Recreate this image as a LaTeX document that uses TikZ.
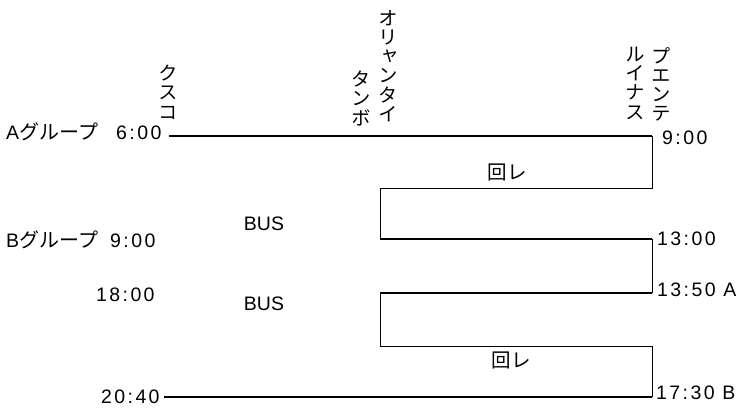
\documentclass[tikz,border=0pt]{standalone}
\usepackage{fontspec}
\setmainfont{Liberation Sans}
\newfontfamily\jp{Noto Sans CJK JP}
\newfontfamily\jpv[RawFeature=+vert]{Noto Sans CJK JP}
\def\lsp#1{\ifx#1\relax\else#1\kern2.4pt\expandafter\lsp\fi}
\begin{document}
\begin{tikzpicture}[x=1pt,y=-1pt,
  txt/.style={inner sep=0pt, font=\fontsize{19.5}{22}\selectfont},
  vtext/.style={inner sep=0pt, align=center, font=\jpv\fontsize{19.5}{19.2}\selectfont},
  thickline/.style={line width=2pt},
  thinline/.style={line width=1pt}]
\useasboundingbox (0,0) rectangle (741,407);
% corners
\coordinate (a0) at (169,136);
\coordinate (a1) at (652,136);
\coordinate (r1) at (652,188);
\coordinate (l1) at (380,188);
\coordinate (l2) at (380,239);
\coordinate (r2) at (652,239);
\coordinate (r3) at (652,293);
\coordinate (l3) at (380,293);
\coordinate (l4) at (380,346);
\coordinate (r4) at (652,346);
\coordinate (r5) at (652,397);
\coordinate (b0) at (164,397);
% route
\draw[thickline] (a0) -- (a1);
\draw[thinline] (a1) -- (r1) -- (l1) -- (l2);
\draw[thickline] (l2) -- (r2);
\draw[thinline] (r2) -- (r3);
\draw[thickline] (r3) -- (l3);
\draw[thinline] (l3) -- (l4) -- (r4) -- (r5);
\draw[thickline] (r5) -- (b0);
% station names (vertical)
\node[vtext, anchor=north] (cusco) at (168,65) {ク\\ス\\コ};
\node[vtext, anchor=north] (olla1) at (388,10) {オ\\リ\\ャ\\ン\\タ\\イ};
\node[vtext, anchor=south] (olla2) at (361,126) {タ\\ン\\ボ};
\node[vtext, anchor=north] (puen1) at (661,47) {プ\\エ\\ン\\テ};
\node[vtext, anchor=north] (puen2) at (635,47) {ル\\イ\\ナ\\ス};
% left labels
\node[txt, anchor=base west] (grpA) at (6,139) {A{\jp\fontsize{20}{22}\selectfont グループ}};
\node[txt, anchor=base west] (tA) at (116,139) {\lsp 6:00\relax};
\node[txt, anchor=base west] (grpB) at (6,247) {B{\jp\fontsize{20}{22}\selectfont グループ}};
\node[txt, anchor=base west] (tB) at (110,247) {\lsp 9:00\relax};
\node[txt, anchor=base west] (t18) at (96,301) {\lsp 18:00\relax};
\node[txt, anchor=base west] (t2040) at (101,403) {\lsp 20:40\relax};
% right labels
\node[txt, anchor=base west] (t900) at (662,144) {\lsp 9:00\relax};
\node[txt, anchor=base west] (t1300) at (657,245) {\lsp 13:00\relax};
\node[txt, anchor=base west] (t1350) at (657,296) {\lsp 13:50\relax\ A};
\node[txt, anchor=base west] (t1730) at (656,399) {\lsp 17:30\relax\ B};
% middle labels
\node[txt] (bus1) at (264,224) {BUS};
\node[txt] (bus2) at (264,304) {BUS};
\node[txt, font=\jp\fontsize{19.5}{22}\selectfont] (kai1) at (507,172) {回レ};
\node[txt, font=\jp\fontsize{19.5}{22}\selectfont] (kai2) at (511,360) {回レ};
\end{tikzpicture}
\end{document}
